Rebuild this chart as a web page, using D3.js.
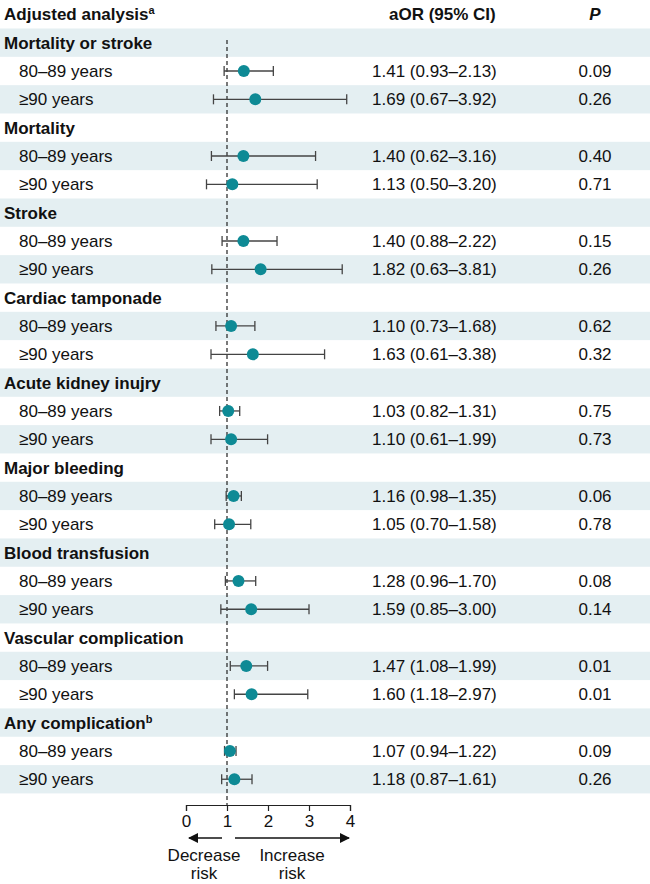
<!DOCTYPE html>
<html>
<head>
<meta charset="utf-8">
<script src="https://cdn.jsdelivr.net/npm/d3@7"></script>
<style>
  html, body { margin: 0; padding: 0; background: #fff; }
  svg { display: block; font-family: "Liberation Sans", Arial, Helvetica, sans-serif; }
</style>
</head>
<body>
<svg id="chart" width="650" height="884"></svg>
<script>
// ---- Data ----
const groups = ["Mortality or stroke", "Mortality", "Stroke", "Cardiac tamponade",
  "Acute kidney inujry", "Major bleeding", "Blood transfusion",
  "Vascular complication", "Any complication"];
const groupSup = ["", "", "", "", "", "", "", "", "b"];
const subgroups = ["80–89 years", "≥90 years"];

const or80 = [1.41, 1.40, 1.40, 1.10, 1.03, 1.16, 1.28, 1.47, 1.07];
const lo80 = [0.93, 0.62, 0.88, 0.73, 0.82, 0.98, 0.96, 1.08, 0.94];
const hi80 = [2.13, 3.16, 2.22, 1.68, 1.31, 1.35, 1.70, 1.99, 1.22];
const p80  = ["0.09", "0.40", "0.15", "0.62", "0.75", "0.06", "0.08", "0.01", "0.09"];

const or90 = [1.69, 1.13, 1.82, 1.63, 1.10, 1.05, 1.59, 1.60, 1.18];
const lo90 = [0.67, 0.50, 0.63, 0.61, 0.61, 0.70, 0.85, 1.18, 0.87];
const hi90 = [3.92, 3.20, 3.81, 3.38, 1.99, 1.58, 3.00, 2.97, 1.61];
const p90  = ["0.26", "0.71", "0.26", "0.32", "0.73", "0.78", "0.14", "0.01", "0.26"];

const axisTicks = [0, 1, 2, 3, 4];
const headers = { label: "Adjusted analysis", labelSup: "a", ci: "aOR (95% CI)", p: "P" };

// ---- Build rows ----
const rows = [];
groups.forEach((g, i) => {
  rows.push({ type: "group", label: g, sup: groupSup[i] });
  rows.push({ type: "item", label: subgroups[0], or: or80[i], lo: lo80[i], hi: hi80[i], p: p80[i] });
  rows.push({ type: "item", label: subgroups[1], or: or90[i], lo: lo90[i], hi: hi90[i], p: p90[i] });
});

const svg = d3.select("#chart");
const fmt = d3.format(".2f");
const FS = 17;
const teal = "#0e8a95";
const shade = "#e4eff2";

const y = d3.scaleBand().domain(d3.range(rows.length)).range([28.5, 28.5 + 28.33 * rows.length]).padding(0);
const x = d3.scaleLinear().domain([0, 4]).range([186, 350]);

// Row shading (alternate rows)
svg.append("g").selectAll("rect")
  .data(d3.range(rows.length).filter(i => i % 2 === 0))
  .join("rect")
  .attr("x", 0).attr("width", 650)
  .attr("y", i => y(i))
  .attr("height", y.bandwidth())
  .attr("fill", shade);

// Header
const hy = 20;
const ht = svg.append("text").attr("x", 4).attr("y", hy)
  .attr("font-size", FS).attr("font-weight", "bold").attr("fill", "#111");
ht.append("tspan").text(headers.label);
ht.append("tspan").attr("font-size", 11).attr("dy", -6).text(headers.labelSup);
svg.append("text").attr("x", 389).attr("y", hy).attr("font-size", FS)
  .attr("font-weight", "bold").attr("fill", "#111").text(headers.ci);
svg.append("text").attr("x", 595).attr("y", hy).attr("font-size", FS)
  .attr("font-weight", "bold").attr("font-style", "italic").attr("text-anchor", "middle")
  .attr("fill", "#111").text(headers.p);

// Axis
const axisY = 805;
const axisG = svg.append("g").attr("transform", `translate(0,${axisY})`)
  .call(d3.axisBottom(x).tickValues(axisTicks).tickFormat(d3.format("d")).tickSize(6).tickSizeOuter(6));
axisG.select(".domain").attr("stroke", "#222").attr("stroke-width", 1.2);
axisG.selectAll(".tick line").attr("stroke", "#222").attr("stroke-width", 1.2);
axisG.selectAll(".tick text").attr("font-size", FS).attr("fill", "#111")
  .attr("font-family", "Liberation Sans, Arial, sans-serif").attr("y", 10);

// Reference dashed line at 1
svg.append("line").attr("x1", x(1)).attr("x2", x(1)).attr("y1", 40).attr("y2", axisY)
  .attr("stroke", "#222").attr("stroke-width", 1.2).attr("stroke-dasharray", "4,3");

// Row labels & values
rows.forEach((r, i) => {
  const cy = y(i) + y.bandwidth() / 2;
  if (r.type === "group") {
    const t = svg.append("text").attr("x", 4).attr("y", cy).attr("dy", "0.36em")
      .attr("font-size", FS).attr("font-weight", "bold").attr("fill", "#111");
    t.append("tspan").text(r.label);
    if (r.sup) t.append("tspan").attr("font-size", 11).attr("dy", -6).text(r.sup);
  } else {
    svg.append("text").attr("x", 19).attr("y", cy).attr("dy", "0.36em")
      .attr("font-size", FS).attr("fill", "#111").text(r.label);
    svg.append("text").attr("x", 372).attr("y", cy).attr("dy", "0.36em")
      .attr("font-size", FS).attr("fill", "#111")
      .text(`${fmt(r.or)} (${fmt(r.lo)}–${fmt(r.hi)})`);
    svg.append("text").attr("x", 595).attr("y", cy).attr("dy", "0.36em")
      .attr("text-anchor", "middle").attr("font-size", FS).attr("fill", "#111").text(r.p);
    const g = svg.append("g");
    g.append("line").attr("x1", x(r.lo)).attr("x2", x(r.hi)).attr("y1", cy).attr("y2", cy)
      .attr("stroke", "#444").attr("stroke-width", 1.3);
    [r.lo, r.hi].forEach(v => g.append("line").attr("x1", x(v)).attr("x2", x(v))
      .attr("y1", cy - 5).attr("y2", cy + 5).attr("stroke", "#444").attr("stroke-width", 1.3));
    g.append("circle").attr("cx", x(r.or)).attr("cy", cy).attr("r", 6).attr("fill", teal);
  }
});

// Arrows
const defs = svg.append("defs");
defs.append("marker").attr("id", "ah").attr("viewBox", "0 0 10 10").attr("refX", 9).attr("refY", 5)
  .attr("markerWidth", 10).attr("markerHeight", 10).attr("markerUnits", "userSpaceOnUse")
  .attr("orient", "auto")
  .append("path").attr("d", "M0,0 L10,5 L0,10 Z").attr("fill", "#111");
const arrowY = 838;
svg.append("line").attr("x1", x(1) - 5).attr("x2", x(0) + 3).attr("y1", arrowY).attr("y2", arrowY)
  .attr("stroke", "#111").attr("stroke-width", 1.3).attr("marker-end", "url(#ah)");
svg.append("line").attr("x1", x(1) + 8).attr("x2", x(4) - 1).attr("y1", arrowY).attr("y2", arrowY)
  .attr("stroke", "#111").attr("stroke-width", 1.3).attr("marker-end", "url(#ah)");

const lbl = [["Decrease", "risk", 204], ["Increase", "risk", 292]];
lbl.forEach(([a, b, cx]) => {
  svg.append("text").attr("x", cx).attr("y", 861).attr("text-anchor", "middle")
    .attr("font-size", FS).attr("fill", "#111").text(a);
  svg.append("text").attr("x", cx).attr("y", 879).attr("text-anchor", "middle")
    .attr("font-size", FS).attr("fill", "#111").text(b);
});
</script>
</body>
</html>
